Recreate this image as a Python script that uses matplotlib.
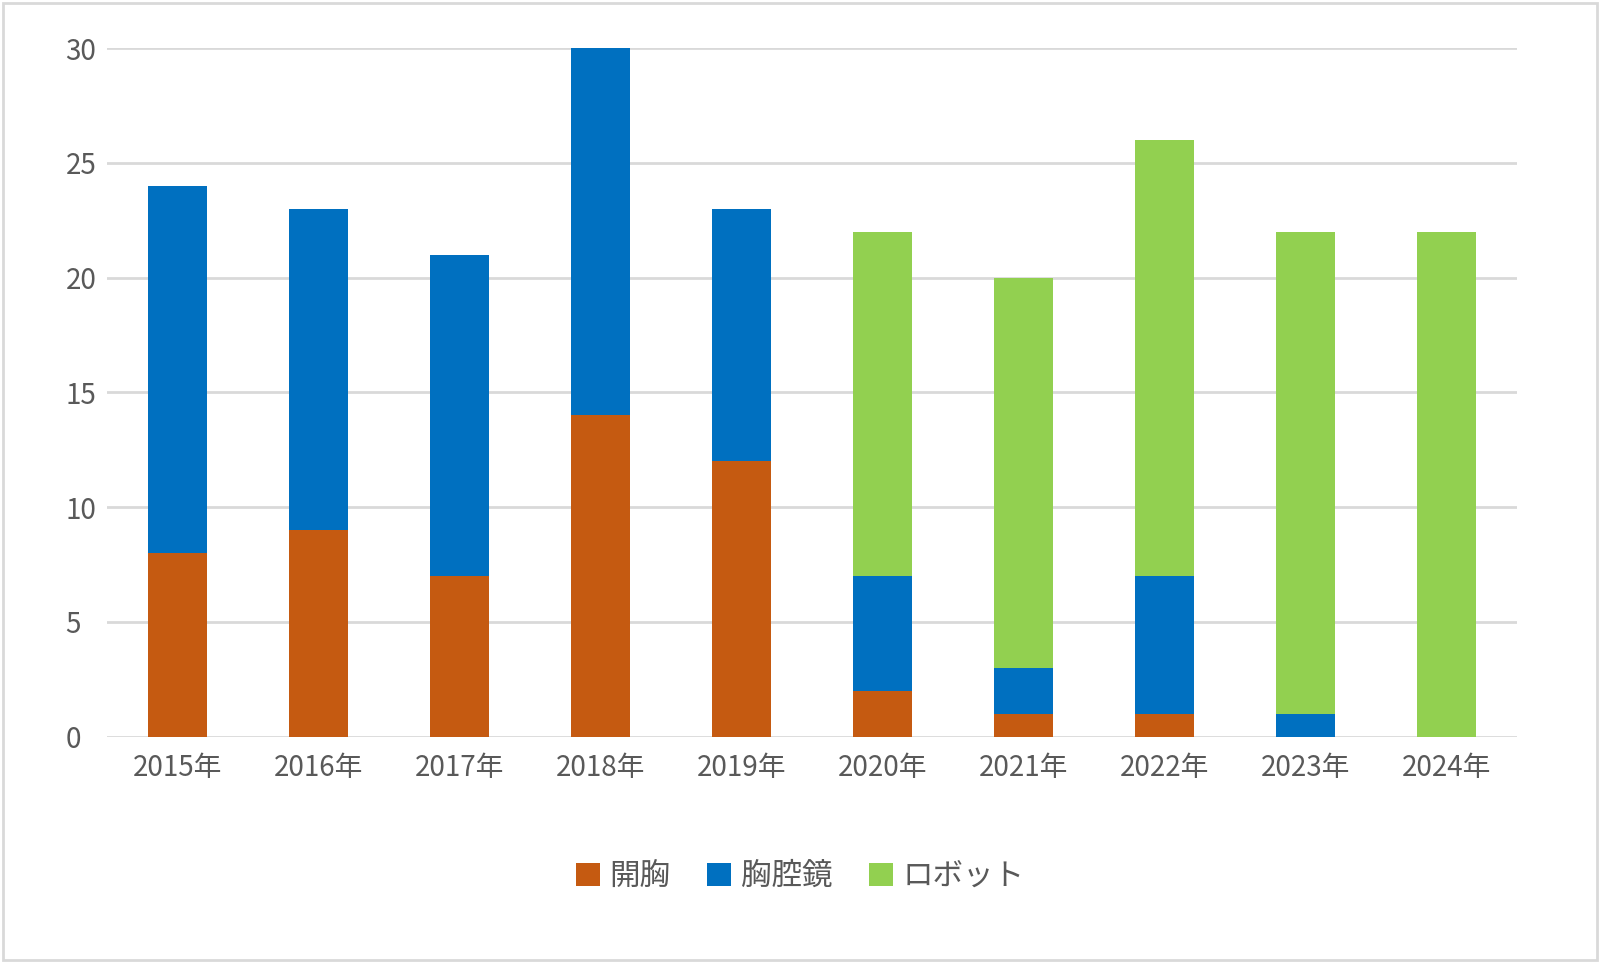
import numpy as np
import matplotlib.pyplot as plt
from matplotlib.patches import Rectangle

plt.rcParams["font.family"] = "Noto Sans CJK JP"

# data
years = ["2015年", "2016年", "2017年", "2018年", "2019年",
         "2020年", "2021年", "2022年", "2023年", "2024年"]
open_chest = [8, 9, 7, 14, 12, 2, 1, 1, 0, 0]
thoracoscopy = [16, 14, 14, 16, 11, 5, 2, 6, 1, 0]
robot = [0, 0, 0, 0, 0, 15, 17, 19, 21, 22]
series_names = ["開胸", "胸腔鏡", "ロボット"]
colors = ["#C55A11", "#0070C0", "#92D050"]

fig = plt.figure(figsize=(16, 9.63), dpi=100)
ax = fig.add_axes([0.067, 0.235, 0.881, 0.715])

x = np.arange(len(years))
w = 0.42
bottom = np.zeros(len(years))
for vals, name, c in zip([open_chest, thoracoscopy, robot], series_names, colors):
    ax.bar(x, vals, w, bottom=bottom, color=c, label=name, zorder=3)
    bottom += np.array(vals)

ax.set_ylim(0, 30)
ax.set_yticks(range(0, 31, 5))
ax.set_xlim(-0.5, len(years) - 0.5)
ax.set_xticks(x)
ax.set_xticklabels(years)
ax.tick_params(axis="both", length=0, labelsize=20, labelcolor="#595959")
ax.tick_params(axis="x", pad=12)
ax.tick_params(axis="y", pad=30)
for lbl in ax.get_yticklabels():
    lbl.set_horizontalalignment("left")
ax.grid(axis="y", color="#D9D9D9", linewidth=2, zorder=0)
for s in ax.spines.values():
    s.set_visible(False)

fig.legend(loc="center", bbox_to_anchor=(0.5, 0.09), ncol=3, frameon=False,
           fontsize=22, labelcolor="#595959", handlelength=0.8, handleheight=0.8,
           handletextpad=0.3, columnspacing=1.2)

fig.patches.append(Rectangle((0.002, 0.003), 0.996, 0.994, transform=fig.transFigure,
                             fill=False, edgecolor="#D9D9D9", linewidth=2))

fig.savefig("out.png", dpi=100)
